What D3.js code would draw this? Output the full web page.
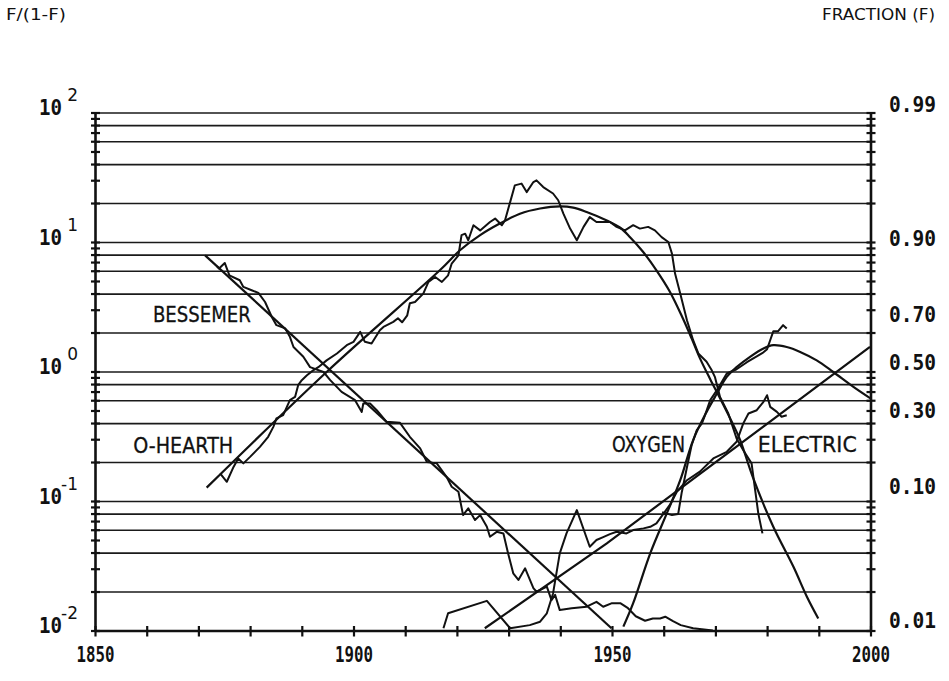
<!DOCTYPE html>
<html>
<head>
<meta charset="utf-8">
<script src="https://cdn.jsdelivr.net/npm/d3@7"></script>
<style>
  body { margin: 0; background: #fff; }
  svg { display: block; }
</style>
</head>
<body>
<svg id="chart" width="949" height="681"></svg>
<script>
// Fisher-Pry substitution plot: steelmaking processes, F/(1-F) on a log axis.

// ---- data: [year, F/(1-F)] ----
const bessemerData = [
  [1873.5, 6.55], [1873.9, 6.29], [1875.0, 6.95], [1875.9, 5.58], [1877.9, 5.11],
  [1878.6, 4.54], [1880.2, 4.28], [1881.5, 4.08], [1882.8, 3.47], [1884.1, 2.66],
  [1885.0, 2.30], [1886.7, 2.17], [1887.6, 1.87], [1888.3, 1.56], [1890.2, 1.31],
  [1891.5, 1.09], [1894.1, 1.00], [1895.4, 0.865], [1897.6, 0.702], [1900.2, 0.606],
  [1901.5, 0.492], [1901.8, 0.571], [1903.1, 0.571], [1904.4, 0.507], [1906.3, 0.412],
  [1908.9, 0.405], [1910.8, 0.316], [1912.8, 0.257], [1914.1, 0.202], [1916.0, 0.197],
  [1917.9, 0.155], [1918.9, 0.130], [1920.2, 0.119], [1921.1, 0.0785], [1922.1, 0.0885],
  [1923.4, 0.0719], [1924.4, 0.0785], [1925.7, 0.0638], [1926.3, 0.0534], [1927.6, 0.0583],
  [1928.9, 0.0567], [1929.8, 0.0398], [1930.8, 0.0279], [1931.8, 0.0248], [1933.1, 0.0305],
  [1934.7, 0.0214], [1935.3, 0.0201], [1937.3, 0.0220], [1938.2, 0.0173], [1938.9, 0.0190],
  [1939.8, 0.0145], [1942.1, 0.0150], [1945.0, 0.0154], [1946.9, 0.0168], [1948.2, 0.0154],
  [1949.9, 0.0164], [1951.5, 0.0164], [1953.0, 0.0150], [1954.5, 0.0130], [1956.3, 0.0120],
  [1957.8, 0.0125], [1959.2, 0.0125], [1960.2, 0.0129], [1961.7, 0.0119], [1963.2, 0.0111],
  [1965.6, 0.0105], [1969.4, 0.0101]
];
const bessemerFit = [[1871.2, 7.96], [1949.8, 0.0105]];

const openHearthData = [
  [1874.1, 0.165], [1875.4, 0.142], [1876.7, 0.185], [1877.6, 0.215], [1878.6, 0.197],
  [1879.9, 0.221], [1881.8, 0.264], [1883.4, 0.316], [1884.4, 0.377], [1885.0, 0.438],
  [1886.3, 0.464], [1887.6, 0.606], [1888.6, 0.642], [1889.2, 0.791], [1889.9, 0.865],
  [1890.9, 0.945], [1892.1, 1.03], [1893.1, 1.09], [1894.7, 1.23], [1896.7, 1.39],
  [1898.6, 1.61], [1899.9, 1.71], [1901.2, 2.04], [1902.1, 1.71], [1903.4, 1.66],
  [1905.0, 2.10], [1905.7, 2.23], [1907.6, 2.44], [1908.5, 2.60], [1909.3, 2.42],
  [1910.3, 2.74], [1910.8, 3.40], [1911.8, 3.47], [1913.4, 4.03], [1914.4, 4.96],
  [1915.7, 5.42], [1917.0, 4.96], [1918.2, 5.58], [1918.9, 6.88], [1920.2, 7.96],
  [1920.8, 11.4], [1921.5, 11.7], [1922.1, 10.4], [1923.1, 13.6], [1924.4, 12.4],
  [1926.3, 14.4], [1927.3, 15.3], [1928.6, 13.6], [1929.2, 14.8], [1930.2, 20.5],
  [1931.1, 27.6], [1932.4, 28.5], [1933.4, 24.5], [1934.7, 29.3], [1935.3, 30.2],
  [1936.6, 26.8], [1938.5, 23.9], [1939.5, 21.2], [1940.5, 16.7], [1941.8, 12.8],
  [1943.1, 10.4], [1944.4, 13.2], [1945.6, 15.7], [1946.9, 14.4], [1949.5, 14.4],
  [1950.8, 13.2], [1952.4, 12.4], [1954.0, 13.6], [1955.3, 12.8], [1956.9, 13.2],
  [1958.2, 12.4], [1959.5, 11.0], [1960.8, 10.1], [1961.5, 8.21], [1962.1, 5.75],
  [1963.1, 4.03], [1964.4, 2.51], [1965.6, 1.76], [1966.6, 1.39], [1968.2, 1.20],
  [1969.2, 1.03], [1969.8, 0.917], [1970.8, 0.642], [1972.4, 0.478], [1974.0, 0.307],
  [1975.3, 0.249], [1976.9, 0.197], [1977.6, 0.122], [1978.2, 0.081], [1979.0, 0.0567]
];
const openHearthFit = [
  [1871.5, 0.128], [1894.7, 1.00], [1916.6, 6.10], [1920.5, 8.71], [1924.4, 11.4],
  [1928.2, 14.0], [1932.1, 16.7], [1936.0, 18.3], [1939.8, 19.0], [1942.4, 18.6],
  [1945.0, 17.2], [1948.9, 14.8], [1951.5, 13.0], [1953.4, 11.0], [1955.9, 8.48],
  [1958.5, 6.10], [1961.1, 4.17], [1963.6, 2.60], [1965.3, 1.82], [1966.9, 1.28],
  [1968.9, 0.880], [1970.8, 0.628], [1973.3, 0.396], [1974.7, 0.298], [1977.2, 0.152],
  [1981.1, 0.0638], [1985.0, 0.0313], [1987.6, 0.0184], [1989.8, 0.0125]
];

const oxygenData = [
  [1959.6, 0.0828], [1961.5, 0.0785], [1962.7, 0.0800], [1963.4, 0.118], [1964.4, 0.184],
  [1965.3, 0.272], [1966.3, 0.356], [1967.3, 0.401], [1967.9, 0.464], [1968.9, 0.606],
  [1970.2, 0.724], [1972.1, 0.974], [1974.0, 1.05], [1976.0, 1.19], [1977.9, 1.32],
  [1979.2, 1.42], [1979.9, 1.50], [1980.5, 1.76], [1981.1, 2.06], [1982.0, 2.06],
  [1983.0, 2.30], [1983.7, 2.17]
];
const oxygenFit = [
  [1952.1, 0.0108], [1954.0, 0.0164], [1957.3, 0.0398], [1960.5, 0.0809], [1963.1, 0.146],
  [1965.6, 0.298], [1968.2, 0.492], [1970.2, 0.682], [1972.1, 0.917], [1974.0, 1.09],
  [1976.6, 1.31], [1979.2, 1.52], [1981.1, 1.61], [1983.7, 1.56], [1986.3, 1.43],
  [1989.5, 1.23], [1992.7, 1.00], [1996.6, 0.767], [1999.9, 0.625]
];

const electricData = [
  [1917.3, 0.0105], [1918.2, 0.0137], [1925.7, 0.0171], [1930.2, 0.0105], [1934.0, 0.0111],
  [1936.0, 0.0118], [1937.3, 0.0137], [1938.5, 0.0195], [1939.8, 0.0398], [1941.1, 0.0567],
  [1943.1, 0.0859], [1945.6, 0.0447], [1946.9, 0.0504], [1948.2, 0.0531], [1949.5, 0.0560],
  [1950.8, 0.0584], [1952.7, 0.0567], [1954.0, 0.0602], [1956.0, 0.0620], [1957.3, 0.0638],
  [1958.5, 0.0678], [1959.8, 0.080], [1961.2, 0.0955], [1962.4, 0.118], [1964.4, 0.146],
  [1966.9, 0.170], [1969.5, 0.215], [1972.1, 0.242], [1974.0, 0.289], [1975.3, 0.401],
  [1976.3, 0.478], [1977.9, 0.507], [1979.2, 0.588], [1979.9, 0.662], [1980.5, 0.538],
  [1981.8, 0.492], [1982.7, 0.451], [1983.7, 0.464]
];
const electricFit = [[1925.3, 0.0105], [1948.9, 0.0475], [1999.8, 1.56]];

// ---- axes ----
const yearDomain = [1850, 2000];
const yearTicks = d3.range(1850, 2001, 10);
const yearLabels = [1850, 1900, 1950, 2000];
const ratioDomain = [0.01, 100];
const decadeExponents = [-2, -1, 0, 1, 2];
const gridValues = [0.01, 0.02, 0.04, 0.06, 0.08, 0.1, 0.2, 0.4, 0.6, 0.8,
                    1, 2, 4, 6, 8, 10, 20, 40, 60, 80, 100];
const fractionLabels = [0.99, 0.90, 0.70, 0.50, 0.30, 0.10, 0.01];

const seriesNames = ["BESSEMER", "O-HEARTH", "OXYGEN", "ELECTRIC"];

// ---- drawing ----
const svg = d3.select("#chart");
const plot = { left: 95.5, right: 871, top: 113, bottom: 631 };

const x = d3.scaleLinear().domain(yearDomain).range([plot.left, plot.right]);
const y = d3.scaleLog().domain(ratioDomain).range([plot.bottom, plot.top]);

const ink = "#111";
const numFont = "'DejaVu Sans Mono', monospace";
const labelFont = "'DejaVu Sans', sans-serif";

// horizontal grid
svg.append("g")
  .selectAll("line")
  .data(gridValues)
  .join("line")
  .attr("x1", plot.left).attr("x2", plot.right)
  .attr("y1", d => y(d)).attr("y2", d => y(d))
  .attr("stroke", "#1a1a1a").attr("stroke-width", 1.7);

// left and right log axes, ticks crossing the axis line
function sideAxis(xpos) {
  const g = svg.append("g").attr("transform", `translate(${xpos},0)`);
  g.append("line").attr("y1", plot.top).attr("y2", plot.bottom)
    .attr("stroke", ink).attr("stroke-width", 2.6);
  g.selectAll("line.tk").data(y.ticks()).join("line").attr("class", "tk")
    .attr("x1", -4.5).attr("x2", 4.5)
    .attr("y1", d => y(d)).attr("y2", d => y(d))
    .attr("stroke", ink).attr("stroke-width", 2.2);
}
sideAxis(plot.left);
sideAxis(plot.right);

// bottom axis
const bottom = svg.append("g").attr("transform", `translate(0,${plot.bottom})`);
bottom.append("line").attr("x1", plot.left).attr("x2", plot.right)
  .attr("stroke", ink).attr("stroke-width", 2.6);
bottom.selectAll("line.tk").data(yearTicks).join("line").attr("class", "tk")
  .attr("x1", d => x(d)).attr("x2", d => x(d)).attr("y1", -5).attr("y2", 5.5)
  .attr("stroke", ink).attr("stroke-width", 2.2);
bottom.selectAll("text").data(yearLabels).join("text")
  .attr("x", d => x(d)).attr("y", 31)
  .attr("text-anchor", "middle")
  .attr("font-family", numFont).attr("font-weight", "bold").attr("font-size", 21)
  .attr("textLength", 38).attr("lengthAdjust", "spacingAndGlyphs")
  .attr("fill", ink)
  .text(d => String(d));

// left decade labels: 10 with raised exponent
const decades = svg.append("g");
decades.selectAll("text.base").data(decadeExponents).join("text").attr("class", "base")
  .attr("x", 62).attr("y", d => y(Math.pow(10, d)) + 2)
  .attr("text-anchor", "end")
  .attr("font-family", numFont).attr("font-weight", "bold").attr("font-size", 21)
  .attr("textLength", 23).attr("lengthAdjust", "spacingAndGlyphs")
  .attr("fill", ink).text("10");
decades.selectAll("text.exp").data(decadeExponents).join("text").attr("class", "exp")
  .attr("x", 78).attr("y", d => y(Math.pow(10, d)) - 12)
  .attr("text-anchor", "end")
  .attr("font-family", labelFont).attr("font-size", 17)
  .attr("fill", ink).text(d => String(d));

// right fraction labels, F placed at F/(1-F)
svg.append("g").selectAll("text").data(fractionLabels).join("text")
  .attr("x", 889).attr("y", d => y(d / (1 - d)) - 2)
  .attr("font-family", numFont).attr("font-weight", "bold").attr("font-size", 21)
  .attr("textLength", 47).attr("lengthAdjust", "spacingAndGlyphs")
  .attr("fill", ink)
  .text(d => d.toFixed(2));

// header titles
svg.append("text").attr("x", 6).attr("y", 20)
  .attr("font-family", labelFont).attr("font-size", 15)
  .attr("textLength", 60).attr("lengthAdjust", "spacingAndGlyphs")
  .attr("fill", ink).text("F/(1-F)");
svg.append("text").attr("x", 935).attr("y", 20).attr("text-anchor", "end")
  .attr("font-family", labelFont).attr("font-size", 15)
  .attr("textLength", 113).attr("lengthAdjust", "spacingAndGlyphs")
  .attr("fill", ink).text("FRACTION (F)");

// curves
svg.append("clipPath").attr("id", "plotclip").append("rect")
  .attr("x", plot.left).attr("y", plot.top)
  .attr("width", plot.right - plot.left).attr("height", plot.bottom - plot.top);
const curves = svg.append("g").attr("clip-path", "url(#plotclip)");

const rawLine = d3.line().x(d => x(d[0])).y(d => y(d[1]));
const smoothLine = d3.line().x(d => x(d[0])).y(d => y(d[1])).curve(d3.curveCatmullRom.alpha(0.5));

[bessemerData, openHearthData, oxygenData, electricData].forEach(s => {
  curves.append("path").attr("d", rawLine(s))
    .attr("fill", "none").attr("stroke", ink).attr("stroke-width", 2)
    .attr("stroke-linejoin", "round");
});
[bessemerFit, electricFit].forEach(s => {
  curves.append("path").attr("d", rawLine(s))
    .attr("fill", "none").attr("stroke", ink).attr("stroke-width", 2.2);
});
[openHearthFit, oxygenFit].forEach(s => {
  curves.append("path").attr("d", smoothLine(s))
    .attr("fill", "none").attr("stroke", ink).attr("stroke-width", 2.2);
});

// series names, placed in data coordinates (start year, centre ratio, width)
const nameSpots = [
  [1861.1, 2.79, 98],
  [1857.3, 0.272, 100],
  [1949.9, 0.280, 73],
  [1978.1, 0.280, 99]
];
svg.append("g").selectAll("text").data(seriesNames).join("text")
  .attr("x", (d, i) => x(nameSpots[i][0]))
  .attr("y", (d, i) => y(nameSpots[i][1]) + 8)
  .attr("font-family", labelFont).attr("font-size", 22)
  .attr("textLength", (d, i) => nameSpots[i][2]).attr("lengthAdjust", "spacingAndGlyphs")
  .attr("fill", ink).attr("stroke", ink).attr("stroke-width", 0.3)
  .text(d => d);
</script>
</body>
</html>
